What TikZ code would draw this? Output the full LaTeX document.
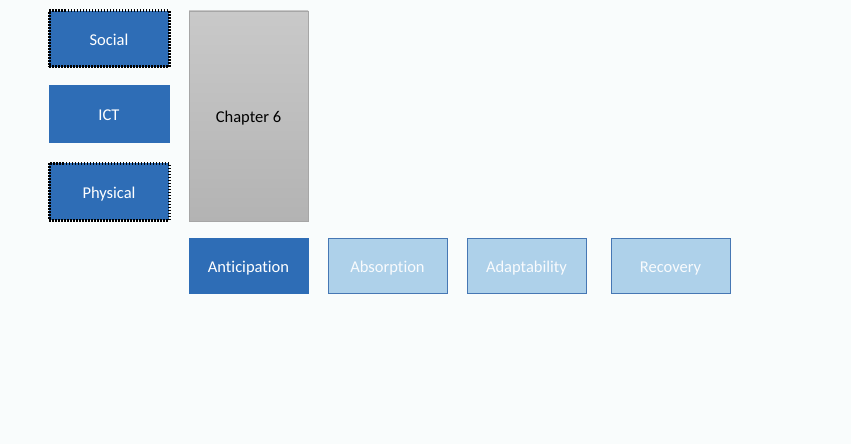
\documentclass[tikz,border=0pt]{standalone}
\usepackage{fontspec}
\setmainfont{Carlito}[Ligatures={NoCommon,NoContextual}, RawFeature={-liga;-clig;-dlig}]
\definecolor{bg}{HTML}{F9FCFC}
\definecolor{dblue}{HTML}{2E6DB6}
\definecolor{lblue}{HTML}{AED1EA}
\definecolor{lborder}{HTML}{4677B4}
\definecolor{gtop}{HTML}{C9C9C9}
\definecolor{gbot}{HTML}{B3B3B3}
\begin{document}
\begin{tikzpicture}[x=1pt,y=-1pt,
  lbl/.style={font=\fontsize{16.5}{19}\selectfont, text height=13pt, text depth=0pt},
  darkbox/.style={rectangle, fill=dblue, draw=dblue, line width=0.8pt, text=white, lbl},
  lightbox/.style={rectangle, fill=lblue, draw=lborder, line width=0.8pt, text=white!92!lblue, lbl},
  dotbox/.style={darkbox, preaction={draw=white, line width=3pt}, draw=black, line width=3pt, dash pattern=on 1.5pt off 1.5pt},
  chapbox/.style={rectangle, top color=gtop, bottom color=gbot, draw=gray!70, line width=0.6pt, text=black, lbl}
]
\fill[bg] (0,0) rectangle (851,444);
\useasboundingbox (0,0) rectangle (851,444);
\node[dotbox, minimum width=120pt, minimum height=56pt] (social) at (109,39) {Social};
\node[darkbox, minimum width=120pt, minimum height=57pt] (ict) at (109,113.5) {ICT};
\node[dotbox, minimum width=120pt, minimum height=57pt] (physical) at (109,191.5) {Physical};
\node[chapbox, minimum width=119pt, minimum height=210pt] (chap) at (248.5,116) {Chapter 6};
\node[darkbox, minimum width=119pt, minimum height=55pt] (antic) at (248.5,265.5) {Anticipation};
\node[lightbox, minimum width=119pt, minimum height=55pt] (absorp) at (387.5,265.5) {Absorption};
\node[lightbox, minimum width=119pt, minimum height=55pt] (adapt) at (526.5,265.5) {Adaptability};
\node[lightbox, minimum width=119pt, minimum height=55pt] (recov) at (670.5,265.5) {Recovery};
\end{tikzpicture}
\end{document}
